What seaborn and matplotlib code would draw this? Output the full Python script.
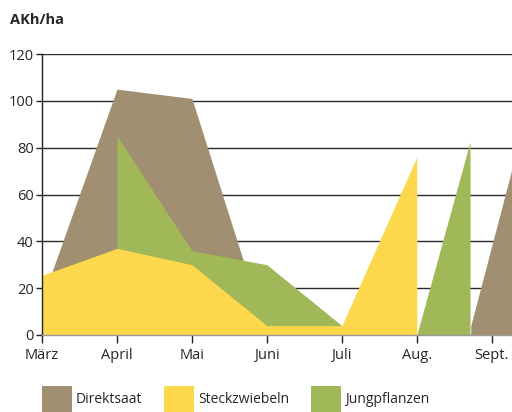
import matplotlib
matplotlib.use("Agg")
import matplotlib.pyplot as plt
from matplotlib.patches import Patch
import seaborn as sns

# ------------------------------------------
# Data (x = months after März, März = 0)
# ------------------------------------------
months = ["März", "April", "Mai", "Juni", "Juli", "Aug.", "Sept."]

direkt_x = [0, 1, 2, 3, 5.72, 5.72, 6.27]
direkt_y = [15, 105, 101, 0, 0, 4, 71]

steck_x = [0, 1, 2, 3, 4, 5, 5]
steck_y = [25.5, 37, 30, 4, 4, 76, 0]

jung_x = [1, 1, 2, 3, 4, 5, 5.71, 5.71]
jung_y = [0, 85, 36, 30, 4, 0, 82.5, 0]

series = ["Direktsaat", "Steckzwiebeln", "Jungpflanzen"]
colors = {"Direktsaat": "#A08F70", "Steckzwiebeln": "#FED84C", "Jungpflanzen": "#A0B858"}

# ------------------------------------------
# Style
# ------------------------------------------
sns.set_style("white")
plt.rcParams["font.family"] = ["Open Sans", "DejaVu Sans"]

fig = plt.figure(figsize=(5.12, 4.12), dpi=100)
ax = fig.add_axes([42 / 512, 1 - 335 / 412, 1 - 42 / 512, (335 - 54) / 412])

# drawing order: brown at back, green, yellow on top
ax.fill_between(direkt_x, direkt_y, 0, color=colors["Direktsaat"], lw=0, zorder=2)
ax.fill_between(jung_x, jung_y, 0, color=colors["Jungpflanzen"], lw=0, zorder=3)
ax.fill_between(steck_x, steck_y, 0, color=colors["Steckzwiebeln"], lw=0, zorder=4)

ax.set_xlim(0, 6.27)
ax.set_ylim(0, 120)
ax.set_xticks(range(len(months)))
ax.set_xticklabels(months)
ax.set_yticks(range(0, 121, 20))

ax.yaxis.grid(True, color="#2a2a2a", lw=1)
ax.xaxis.grid(False)
ax.set_axisbelow(True)

sns.despine(ax=ax, top=True, right=True)
ax.spines["left"].set_color("#222222")
ax.spines["left"].set_linewidth(1)
ax.spines["left"].set_zorder(5)
ax.spines["bottom"].set_color("#9a9a9a")
ax.spines["bottom"].set_linewidth(1)
ax.spines["bottom"].set_zorder(5)

ax.tick_params(axis="y", direction="out", length=4, width=1, color="#222222",
               labelsize=10.5, pad=2, left=True)
ax.tick_params(axis="x", direction="out", length=6, width=1, color="#222222",
               labelsize=10.5, pad=3.5, bottom=True)

fig.text(10 / 512, 1 - 20 / 412, "AKh/ha", fontsize=10.5, fontweight="bold",
         va="center", ha="left")

handles = [Patch(facecolor=colors[s], edgecolor="none", label=s) for s in series]
fig.legend(handles=handles, loc="lower left", bbox_to_anchor=(42 / 512, 0),
           ncol=3, frameon=False, fontsize=10, handlelength=2.15,
           handleheight=2.5, handletextpad=0.3, columnspacing=1.55,
           borderpad=0, borderaxespad=0)

fig.savefig("out.png", dpi=100)
